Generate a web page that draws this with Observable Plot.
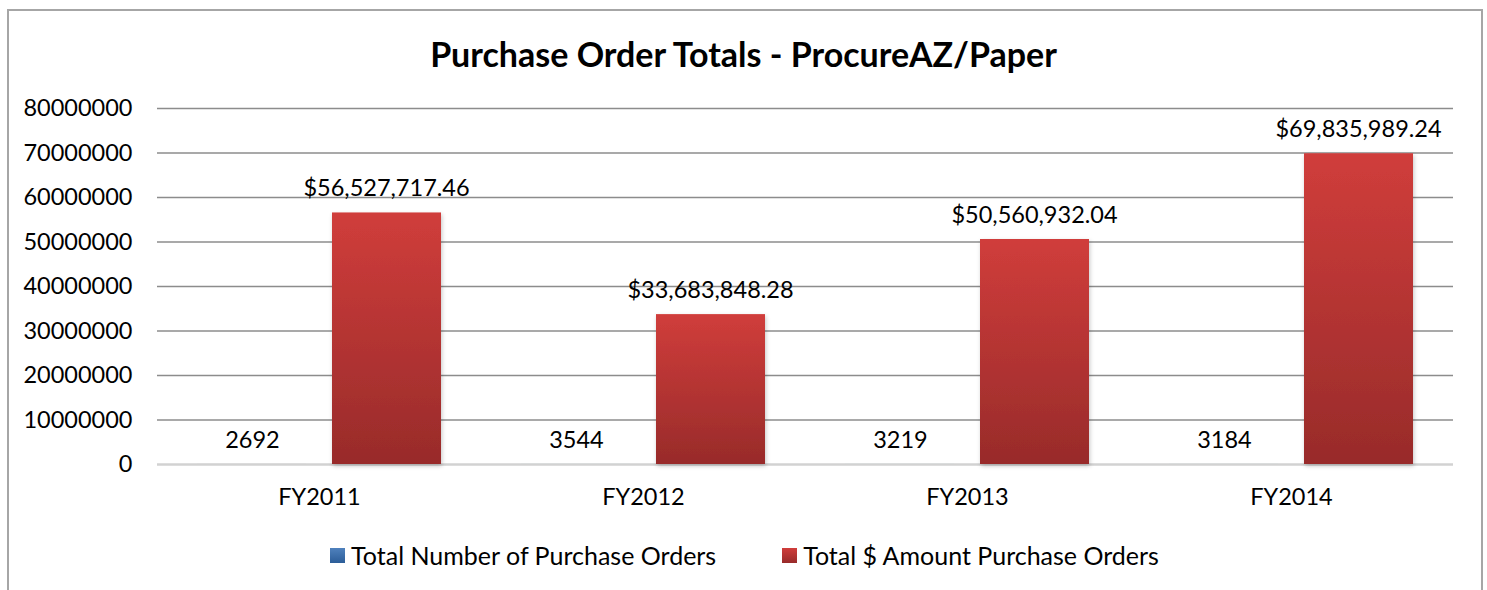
<!DOCTYPE html>
<html>
<head>
<meta charset="utf-8">
<script src="https://cdn.jsdelivr.net/npm/d3@7"></script>
<script src="https://cdn.jsdelivr.net/npm/@observablehq/plot@0.6"></script>
<style>
  html, body { margin: 0; padding: 0; background: #fff; overflow: hidden; }
  body { width: 1487px; height: 590px; position: relative; font-family: Lato, "Open Sans", sans-serif; color: #000; }
  #frame { position: absolute; left: 7px; top: 9px; width: 1472px; height: 640px; border: 2px solid #a6a6a6; pointer-events: none; }
  #title { height: 90px; box-sizing: border-box; padding-top: 35px; text-align: center; font-weight: bold; font-size: 34px; line-height: 38px; }
  #chart svg { display: block; }
  #legend { height: 70px; display: flex; justify-content: center; align-items: center; font-size: 25px; padding-left: 2px; box-sizing: border-box; }
  .item { display: flex; align-items: center; }
  .item + .item { margin-left: 66px; }
  .sw { width: 15px; height: 15px; margin-right: 6px; }
</style>
</head>
<body>
<div id="title">Purchase Order Totals - ProcureAZ/Paper</div>
<div id="chart"></div>
<div id="legend"></div>
<div id="frame"></div>
<script>
// ---- data ----
const categories = ["FY2011", "FY2012", "FY2013", "FY2014"];
const orderCounts = [2692, 3544, 3219, 3184];
const dollarAmounts = [56527717.46, 33683848.28, 50560932.04, 69835989.24];
const seriesNames = ["Total Number of Purchase Orders", "Total $ Amount Purchase Orders"];
const yTicks = [0, 10000000, 20000000, 30000000, 40000000, 50000000, 60000000, 70000000, 80000000];

const countRows = categories.map((c, i) => ({category: c, value: orderCounts[i], series: seriesNames[0]}));
const amountRows = categories.map((c, i) => ({category: c, value: dollarAmounts[i], series: seriesNames[1]}));
const fmtMoney = v => "$" + d3.format(",.2f")(v);

const font = "Lato, 'Open Sans', sans-serif";
const fs = 23.5;

const plot = Plot.plot({
  width: 1487,
  height: 430,
  marginTop: 18,
  marginBottom: 56,
  marginLeft: 157,
  marginRight: 34,
  style: {fontFamily: font, fontSize: fs + "px", color: "#000", background: "#fff"},
  x: {domain: categories, padding: 0, label: null},
  y: {domain: [0, 80000000], ticks: yTicks, label: null},
  marks: [
    Plot.ruleY(yTicks.filter(t => t > 0), {stroke: "#8c8c8c", strokeWidth: 1.5}),
    Plot.ruleY([0], {stroke: "#d2d2d2", strokeWidth: 2.5}),
    Plot.barY(countRows, {x: "category", y: "value", fill: "url(#gradBlue)", insetLeft: 40, insetRight: 175}),
    Plot.barY(amountRows, {x: "category", y: "value", fill: "url(#gradRed)", insetLeft: 175, insetRight: 40}),
    Plot.text(countRows, {x: "category", y: "value", text: d => String(d.value), dx: -67, dy: -16, lineAnchor: "bottom", fill: "#000", fontSize: fs}),
    Plot.text(amountRows, {x: "category", y: "value", text: d => fmtMoney(d.value), dx: 67, dy: -17, lineAnchor: "bottom", fill: "#000", fontSize: fs}),
    Plot.axisY({ticks: yTicks, tickFormat: d => String(d), tickSize: 0, tickPadding: 25, label: null, fontSize: fs}),
    Plot.axisX({tickSize: 0, tickPadding: 24, label: null, fontSize: fs})
  ]
});

// gradients and shadow
const svg = d3.select(plot);
const defs = svg.insert("defs", ":first-child");
const gR = defs.append("linearGradient").attr("id", "gradRed").attr("x1", 0).attr("y1", 0).attr("x2", 0).attr("y2", 1);
gR.append("stop").attr("offset", "0%").attr("stop-color", "#d03d3b");
gR.append("stop").attr("offset", "100%").attr("stop-color", "#982b2a");
const gB = defs.append("linearGradient").attr("id", "gradBlue").attr("x1", 0).attr("y1", 0).attr("x2", 0).attr("y2", 1);
gB.append("stop").attr("offset", "0%").attr("stop-color", "#4f81bd");
gB.append("stop").attr("offset", "100%").attr("stop-color", "#2c5d98");
const f = defs.append("filter").attr("id", "shadow").attr("x", "-10%").attr("y", "-10%").attr("width", "130%").attr("height", "130%");
f.append("feDropShadow").attr("dx", 1).attr("dy", 2).attr("stdDeviation", 2).attr("flood-color", "#000").attr("flood-opacity", 0.22);
svg.selectAll("g[aria-label='bar'] rect").attr("filter", "url(#shadow)");

document.getElementById("chart").appendChild(plot);

// legend
const legend = d3.select("#legend");
const swatchStyles = [
  "linear-gradient(#4f81bd, #2c5d98)",
  "linear-gradient(#d03d3b, #982b2a)"
];
seriesNames.forEach((name, i) => {
  const it = legend.append("div").attr("class", "item");
  it.append("div").attr("class", "sw").style("background", swatchStyles[i]);
  it.append("span").text(name);
});
</script>
</body>
</html>
